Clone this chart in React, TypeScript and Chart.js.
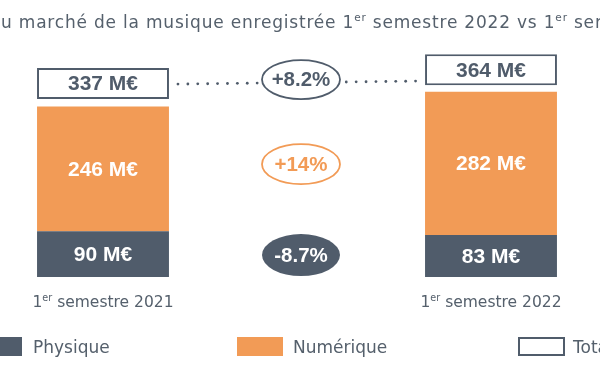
import React, { useEffect, useRef } from "react";
import { Chart, registerables } from "chart.js";

Chart.register(...registerables);

// ---------- data ----------
const categories = ["1er semestre 2021", "1er semestre 2022"];
const categoryYears = ["2021", "2022"];
const physique = [90, 83];
const numerique = [246, 282];
const totals = [337, 364];
const changeTotal = "+8.2%";
const changeNumerique = "+14%";
const changePhysique = "-8.7%";
const seriesNames = ["Physique", "Numérique", "Total"];
const unit = "M€";

// ---------- styles ----------
const DARK = "#505c6b";
const ORANGE = "#f29b56";
const TEXT = "#55606c";
const SANS = '"DejaVu Sans", sans-serif';
const BOLD = '"Liberation Sans", Arial, sans-serif';
const OFF = 91; // canvas is shifted left on the page by this amount
const CW = 776;
const CH = 372;
const BOX_GAP = 14;
const BOX_H = 61;

function drawSup(
  ctx: CanvasRenderingContext2D,
  parts: { t: string; sup?: boolean }[],
  x: number,
  y: number,
  size: number,
  align: "left" | "center"
) {
  const supSize = size * 0.62;
  const widths = parts.map((p) => {
    ctx.font = `${p.sup ? supSize : size}px ${SANS}`;
    return ctx.measureText(p.t).width;
  });
  const total = widths.reduce((a, b) => a + b, 0);
  let cx = align === "center" ? x - total / 2 : x;
  ctx.textAlign = "left";
  ctx.textBaseline = "alphabetic";
  parts.forEach((p, i) => {
    ctx.font = `${p.sup ? supSize : size}px ${SANS}`;
    ctx.fillText(p.t, cx, p.sup ? y - size * 0.38 : y);
    cx += widths[i];
  });
}

const overlay = {
  id: "overlay",
  afterDatasetsDraw(chart: any) {
    const ctx: CanvasRenderingContext2D = chart.ctx;
    const mP = chart.getDatasetMeta(0).data as any[];
    const mN = chart.getDatasetMeta(1).data as any[];
    const mT = chart.getDatasetMeta(2).data as any[];
    ctx.save();

    // title
    ctx.fillStyle = TEXT;
    (ctx as any).letterSpacing = "0.8px";
    ctx.font = `17px ${SANS}`;
    const pre = "Évolution d";
    const preW = ctx.measureText(pre).width;
    drawSup(
      ctx,
      [
        { t: pre + "u marché de la musique enregistrée 1" },
        { t: "er", sup: true },
        { t: " semestre 2022 vs 1" },
        { t: "er", sup: true },
        { t: " semestre 2021" },
      ],
      OFF + 1 - preW,
      27.5,
      17,
      "left"
    );
    (ctx as any).letterSpacing = "0px";

    for (let i = 0; i < mP.length; i++) {
      const p = mP[i];
      const n = mN[i];
      const t = mT[i];
      // value labels
      ctx.textAlign = "center";
      ctx.textBaseline = "middle";
      ctx.font = `bold 21px ${BOLD}`;
      ctx.fillStyle = "#ffffff";
      ctx.fillText(`${physique[i]} ${unit}`, p.x, (p.y + p.base) / 2 + 1);
      ctx.fillText(`${numerique[i]} ${unit}`, n.x, (n.y + n.base) / 2 + 1);
      ctx.fillStyle = DARK;
      ctx.fillText(`${totals[i]} ${unit}`, t.x, (t.y + t.base) / 2 + 1);

      // category labels
      ctx.fillStyle = TEXT;
      drawSup(
        ctx,
        [{ t: "1" }, { t: "er", sup: true }, { t: " semestre " + categoryYears[i] }],
        p.x,
        p.base + 29.5,
        15.5,
        "center"
      );
    }

    // change ellipses
    const cx = (mP[0].x + mP[1].x) / 2 + 4;
    const cyT = ((mT[0].y + mT[0].base) / 2 + (mT[1].y + mT[1].base) / 2) / 2 + 3;
    const cyN = ((mN[0].y + mN[0].base) / 2 + (mN[1].y + mN[1].base) / 2) / 2 - 2;
    const cyP = ((mP[0].y + mP[0].base) / 2 + (mP[1].y + mP[1].base) / 2) / 2;
    const rx = 39;
    const ry = 19.5;

    // dotted connector
    const x0 = mT[0].x + mT[0].width / 2 + 9;
    const x1 = mT[1].x - mT[1].width / 2 - 8;
    const y0 = cyT + 4.5;
    const y1 = cyT + 1.5;
    ctx.fillStyle = DARK;
    const step = 9.9;
    for (let x = x0; x <= x1 + 0.1; x += step) {
      if (Math.abs(x - cx) < rx + 4) continue;
      const y = y0 + ((y1 - y0) * (x - x0)) / (x1 - x0);
      ctx.beginPath();
      ctx.arc(x, y, 1.4, 0, Math.PI * 2);
      ctx.fill();
    }

    ctx.lineWidth = 1.8;
    ctx.beginPath();
    ctx.ellipse(cx, cyT, rx, ry, 0, 0, Math.PI * 2);
    ctx.fillStyle = "#ffffff";
    ctx.fill();
    ctx.strokeStyle = DARK;
    ctx.stroke();

    ctx.beginPath();
    ctx.ellipse(cx, cyN, rx, ry + 0.5, 0, 0, Math.PI * 2);
    ctx.strokeStyle = ORANGE;
    ctx.stroke();

    ctx.beginPath();
    ctx.ellipse(cx, cyP, rx, ry + 1.5, 0, 0, Math.PI * 2);
    ctx.fillStyle = DARK;
    ctx.fill();

    ctx.font = `bold 20.5px ${BOLD}`;
    ctx.textAlign = "center";
    ctx.textBaseline = "middle";
    ctx.fillStyle = DARK;
    ctx.fillText(changeTotal, cx, cyT + 1);
    ctx.fillStyle = ORANGE;
    ctx.fillText(changeNumerique, cx, cyN + 1);
    ctx.fillStyle = "#ffffff";
    ctx.fillText(changePhysique, cx, cyP + 1);

    // legend
    const ly = 337;
    const lh = 19;
    const items = [
      { bx: -24, tx: 33, kind: "fill", color: DARK },
      { bx: 237, tx: 293, kind: "fill", color: ORANGE },
      { bx: 518, tx: 573, kind: "stroke", color: DARK },
    ];
    items.forEach((it, i) => {
      if (it.kind === "fill") {
        ctx.fillStyle = it.color;
        ctx.fillRect(OFF + it.bx, ly, 46, lh);
      } else {
        ctx.strokeStyle = it.color;
        ctx.lineWidth = 2;
        ctx.strokeRect(OFF + it.bx + 1, ly + 1, 45, lh - 2);
      }
      ctx.fillStyle = TEXT;
      ctx.font = `17px ${SANS}`;
      ctx.textAlign = "left";
      ctx.textBaseline = "alphabetic";
      ctx.fillText(seriesNames[i], OFF + it.tx, 353);
    });

    ctx.restore();
  },
};

export default function App() {
  const ref = useRef<HTMLCanvasElement | null>(null);

  useEffect(() => {
    if (!ref.current) return;
    const chart = new Chart(ref.current, {
      type: "bar",
      data: {
        labels: categories,
        datasets: [
          {
            label: seriesNames[0],
            data: physique,
            backgroundColor: DARK,
            stack: "s",
            borderWidth: 0,
          },
          {
            label: seriesNames[1],
            data: numerique,
            backgroundColor: ORANGE,
            stack: "s",
            borderWidth: 0,
          },
          {
            label: seriesNames[2],
            data: totals.map((v) => [v + BOX_GAP, v + BOX_GAP + BOX_H]) as any,
            backgroundColor: "#ffffff",
            borderColor: DARK,
            borderWidth: 2,
            borderSkipped: false,
            stack: "t",
          },
        ],
      },
      options: {
        responsive: false,
        devicePixelRatio: 1,
        animation: false,
        events: [],
        datasets: {
          bar: { barPercentage: 0.34, categoryPercentage: 1, grouped: false },
        },
        layout: { padding: { top: 0, bottom: 95, left: 0, right: 0 } },
        scales: {
          x: { type: "category", display: false, stacked: true, offset: true },
          y: { display: false, stacked: true, min: 0, max: 546 },
        },
        plugins: {
          legend: { display: false },
          tooltip: { enabled: false },
          title: { display: false },
        },
      },
      plugins: [overlay],
    });
    return () => chart.destroy();
  }, []);

  return (
    <div
      style={{
        position: "fixed",
        left: 0,
        top: 0,
        width: 600,
        height: 372,
        overflow: "hidden",
        background: "#ffffff",
      }}
    >
      <canvas
        ref={ref}
        width={CW}
        height={CH}
        style={{ position: "absolute", left: -OFF, top: 0, width: CW, height: CH }}
      />
    </div>
  );
}
